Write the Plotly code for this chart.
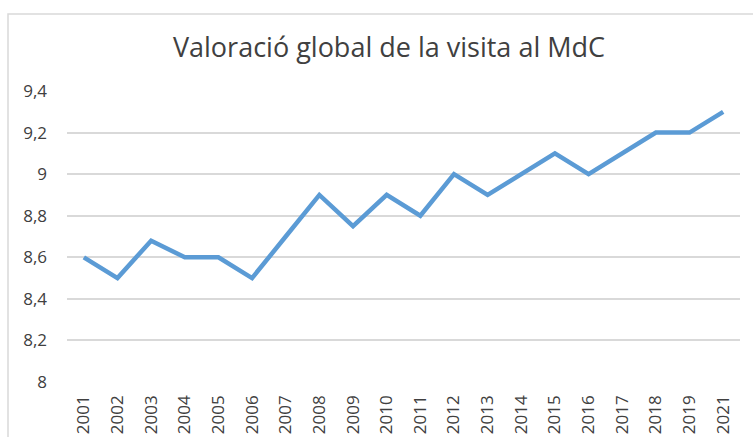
import plotly.graph_objects as go

years = ["2001", "2002", "2003", "2004", "2005", "2006", "2007", "2008", "2009", "2010",
         "2011", "2012", "2013", "2014", "2015", "2016", "2017", "2018", "2019", "2021"]
values = [8.6, 8.5, 8.68, 8.6, 8.6, 8.5, 8.7, 8.9, 8.75, 8.9,
          8.8, 9.0, 8.9, 9.0, 9.1, 9.0, 9.1, 9.2, 9.2, 9.3]
ytick_vals = [8.0, 8.2, 8.4, 8.6, 8.8, 9.0, 9.2, 9.4]
ytick_text = ["8", "8,2", "8,4", "8,6", "8,8", "9", "9,2", "9,4"]
title = "Valoració global de la visita al MdC"

W, H = 753, 437
ml, mr, mt, mb = 67, 13, 91, 55
pw, ph = W - ml - mr, H - mt - mb

fig = go.Figure()
fig.add_trace(go.Scatter(x=years, y=values, mode="lines",
                         line=dict(color="#5B9BD5", width=4.5),
                         hoverinfo="x+y"))

def px_x(p):
    return (p - ml) / pw

def px_y(p):
    return 1 - (p - mt) / ph

fig.add_shape(type="rect", xref="paper", yref="paper",
              x0=px_x(8), x1=px_x(765), y0=px_y(14), y1=px_y(450),
              line=dict(color="#D9D9D9", width=1.5), fillcolor="rgba(0,0,0,0)",
              layer="below")

fig.update_layout(
    width=W, height=H,
    margin=dict(l=ml, r=mr, t=mt, b=mb, autoexpand=False),
    paper_bgcolor="white", plot_bgcolor="white",
    showlegend=False,
    title=dict(text=title, x=389 / W, xanchor="center", y=1 - 48 / H, yanchor="middle",
               font=dict(family="Open Sans", size=27, color="#404040")),
    xaxis=dict(type="category", tickangle=-90, showgrid=False, showline=False,
               ticks="", ticklabelstandoff=9, automargin=False,
               tickfont=dict(family="Open Sans", size=17, color="#404040"),
               range=[-0.5, len(years) - 0.5]),
    yaxis=dict(range=[8.0, 9.4], tickvals=ytick_vals, ticktext=ytick_text,
               showgrid=True, gridcolor="#D9D9D9", gridwidth=1.5, automargin=False,
               zeroline=False, showline=False, ticks="", ticklabelstandoff=19,
               tickfont=dict(family="Open Sans", size=17, color="#404040")),
)

fig.write_html("out.html", config={"displayModeBar": False},
               post_script="document.body.style.margin='0px';")
